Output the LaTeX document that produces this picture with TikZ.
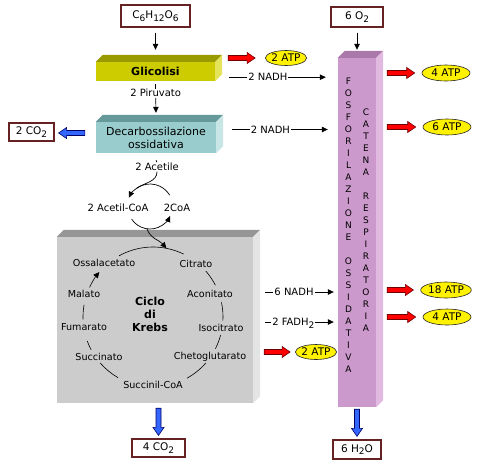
\documentclass[tikz,border=0pt]{standalone}
\usepackage{fontspec}
\setmainfont{DejaVu Sans}
\usetikzlibrary{arrows.meta,calc,shapes.geometric}

\definecolor{glyfront}{RGB}{204,204,0}
\definecolor{glytop}{RGB}{153,153,0}
\definecolor{glyside}{RGB}{228,228,90}
\definecolor{decfront}{RGB}{153,204,204}
\definecolor{dectop}{RGB}{102,153,153}
\definecolor{decside}{RGB}{200,230,230}
\definecolor{krfront}{RGB}{204,204,204}
\definecolor{krtop}{RGB}{150,150,150}
\definecolor{krside}{RGB}{228,228,228}
\definecolor{colfront}{RGB}{204,153,204}
\definecolor{coltop}{RGB}{170,120,170}
\definecolor{colside}{RGB}{225,185,225}
\definecolor{boxline}{RGB}{102,34,34}
\definecolor{atpred}{RGB}{255,0,0}
\definecolor{atpline}{RGB}{110,0,0}
\definecolor{co2blue}{RGB}{51,102,255}
\definecolor{co2line}{RGB}{0,0,102}

% low subscript
\newcommand\lowsub[1]{\raisebox{-2.5pt}{\fontsize{9}{10}\selectfont #1}}
% top and right face of a slab node
\newcommand\slabsides[3]{%
  \fill[#2] (#1.north west) -- ++(7,7) -- ($(#1.north east)+(7,7)$) -- (#1.north east) -- cycle;
  \fill[#3] (#1.north east) -- ++(7,7) -- ($(#1.south east)+(7,7)$) -- (#1.south east) -- cycle;
}
% fat outlined arrow: fill, outline, from, to
\newcommand\fatarrow[4]{%
  \path (#3) coordinate (fa-s) (#4) coordinate (fa-e);
  \filldraw[fill=#1, draw=#2, line width=.6pt, line join=miter]
    ($(fa-s)!2.5pt!90:(fa-e)$) -- ($(fa-e)!8pt!(fa-s)!2.5pt!-90:(fa-s)$)
    -- ($(fa-e)!8pt!(fa-s)!5.5pt!-90:(fa-s)$) -- (fa-e)
    -- ($(fa-e)!8pt!(fa-s)!5.5pt!90:(fa-s)$) -- ($(fa-e)!8pt!(fa-s)!2.5pt!90:(fa-s)$)
    -- ($(fa-s)!2.5pt!-90:(fa-e)$) -- cycle;
}

\begin{document}
\begin{tikzpicture}[x=1pt,y=1pt,
  lbl/.style={font=\fontsize{10}{12}\selectfont, inner sep=1pt, text height=7pt, text depth=0pt},
  kl/.style={font=\fontsize{9.6}{11}\selectfont, inner sep=1pt},
  molbox/.style={draw=boxline, line width=1.2pt, fill=white, inner sep=0pt, font=\fontsize{10.5}{12}\selectfont},
  slab/.style={inner sep=0pt, align=center},
  atp/.style={ellipse, draw=black!85, line width=.6pt, fill=yellow, inner sep=0pt, minimum height=16pt, font=\fontsize{10.5}{12}\selectfont},
  letter/.style={font=\fontsize{9}{10}\selectfont, inner sep=0pt, text height=6.5pt, text depth=0pt},
  arr/.style={-{Triangle[length=6pt,width=5.5pt]}, line width=.7pt}]
\useasboundingbox (0,0) rectangle (478,-464);

% inputs
\node[molbox, minimum width=69pt, minimum height=22pt] (gluc) at (155.5,-16) {C\lowsub{6}H\lowsub{12}O\lowsub{6}};
\node[molbox, minimum width=52pt, minimum height=20pt] (oxy) at (357,-17) {6 O\lowsub{2}};

% glicolisi, decarbossilazione
\node[slab, fill=glyfront, minimum width=119pt, minimum height=19pt, font=\bfseries\fontsize{11}{13}\selectfont] (gly) at (155.5,-71.5) {Glicolisi};
\slabsides{gly}{glytop}{glyside}
\node[slab, fill=decfront, minimum width=120pt, minimum height=31pt, font=\fontsize{11}{13}\selectfont] (dec) at (156,-137.5) {Decarbossilazione\\ossidativa};
\slabsides{dec}{dectop}{decside}
\draw[arr] ([yshift=-5pt]gluc.south) -- ([yshift=12pt]gly.north);
\draw[arr] ([yshift=-3pt]gly.south) -- ([yshift=9pt]dec.north) node[lbl, pos=.31, fill=white] {2 Piruvato};

% catena respiratoria
\node[slab, fill=colfront, minimum width=38pt, minimum height=349pt] (col) at (357,-232.5) {};
\slabsides{col}{coltop}{colside}
\draw[arr] ([yshift=-5pt]oxy.south) -- ([yshift=8pt]col.north);
\foreach \c [count=\i from 0] in {F,O,S,F,O,R,I,L,A,Z,I,O,N,E,,O,S,S,I,D,A,T,I,V,A}
  \node[letter] (fo\i) at (348.5,-81-12*\i) {\c};
\foreach \c [count=\i from 0] in {C,A,T,E,N,A,,R,E,S,P,I,R,A,T,O,R,I,A}
  \node[letter] (ca\i) at (366,-112-12*\i) {\c};

% ciclo di Krebs
\node[slab, fill=krfront, minimum width=196pt, minimum height=166pt] (krebs) at (155,-320) {};
\slabsides{krebs}{krtop}{krside}
\coordinate (kc) at (153,-317);
\node[kl] (ossal) at (104,-263) {Ossalacetato};
\node[kl] (citr) at (196,-264) {Citrato};
\node[kl] (malato) at (84,-294) {Malato};
\node[kl] (aconit) at (210,-294) {Aconitato};
\node[kl] (fumar) at (84,-327) {Fumarato};
\node[kl] (isocit) at (221,-328) {Isocitrato};
\node[kl] (succ) at (99,-357) {Succinato};
\node[kl] (cheto) at (210,-357) {Chetoglutarato};
\node[kl] (succoa) at (153,-385) {Succinil-CoA};
\node[font=\bfseries\fontsize{11}{13}\selectfont, align=center, inner sep=0pt] (ciclo) at (150,-314) {Ciclo\\di\\Krebs};
\foreach \a/\b in {119/64, 41/27, 12/-3, -15/-27, -41/-61, 221/240, 200/208, 182/170}
  \draw[line width=.6pt] ($(kc)+(\a:70)$) arc[start angle=\a, end angle=\b, radius=70];
\draw[arr, line width=.6pt] ($(kc)+(155:70)$) arc[start angle=155, end angle=140, radius=70];

% acetil-CoA
\node[lbl] (acet) at (157,-167) {2 Acetile};
\node[lbl] (acoa) at (118,-208) {2 Acetil-CoA};
\node[lbl] (coa) at (177,-208) {2CoA};
\coordinate (cyc) at (150,-207);
\draw[line width=.7pt] ([yshift=-7pt]dec.south) -- (acet.north);
\draw[arr] ($(cyc)+(31:23)$) arc[start angle=31, end angle=156, radius=23];
\draw[arr] ($(cyc)+(213:22)$) arc[start angle=213, end angle=336, radius=22];
\draw[line width=.7pt] (acet.south) to[out=-90, in=35] ($(cyc)+(125:23)$);
\draw[arr] ($(cyc)+(262:22)$) to[out=-70, in=130] ($(kc)+(79:70)$);

% ATP
\node[atp, minimum width=38pt, minimum height=15pt] (atpG) at (286,-58) {2 ATP};
\node[atp, minimum width=48pt] (atpB) at (446,-73) {4 ATP};
\node[atp, minimum width=48pt] (atpC) at (447,-127) {6 ATP};
\node[atp, minimum width=49pt] (atpD) at (446,-290) {18 ATP};
\node[atp, minimum width=48pt] (atpE) at (447,-317) {4 ATP};
\node[atp, minimum width=38pt, minimum height=15pt] (atpK) at (316,-352) {2 ATP};
\fatarrow{atpred}{atpline}{$(gly.east |- atpG.west)+(13,0)$}{$(atpG.west)+(-10,0)$}
\foreach \t in {atpB,atpC,atpD,atpE}
  {\fatarrow{atpred}{atpline}{$(col.east |- \t.west)+(11,0)$}{$(\t.west)+(-7,0)$}}
\fatarrow{atpred}{atpline}{$(krebs.east |- atpK.west)+(11,0)$}{$(atpK.west)+(-5,0)$}

% NADH, FADH2
\draw[arr] ($(gly.south east)+(14,4)$) coordinate (nA) -- ($(col.west |- nA)+(-12,0)$) node[lbl, pos=.4, fill=white] {2 NADH};
\draw[arr] ($(dec.east)+(16,8)$) coordinate (nB) -- ($(col.west |- nB)+(-10,0)$) node[lbl, pos=.4, fill=white] {2 NADH};
\coordinate (n6) at ($(krebs.east |- atpD.west)+(12,-2)$);
\draw[arr] (n6) -- ($(col.west |- n6)+(-4,0)$) node[lbl, pos=.42, fill=white] {6 NADH};
\coordinate (f2) at ($(krebs.east |- atpE.west)+(12,-5)$);
\draw[arr] (f2) -- ($(col.west |- f2)+(-4,0)$) node[lbl, pos=.41, fill=white] {2 FADH\lowsub{2}};

% outputs
\node[molbox, minimum width=45pt, minimum height=18pt] (co2a) at (31.5,-132) {2 CO\lowsub{2}};
\node[molbox, minimum width=53pt, minimum height=18pt] (co2b) at (158.5,-448) {4 CO\lowsub{2}};
\node[molbox, minimum width=48pt, minimum height=19pt] (water) at (357,-449.5) {6 H\lowsub{2}O};
\fatarrow{co2blue}{co2line}{$(dec.west |- co2a.east)+(-11,-1)$}{$(co2a.east)+(4,-1)$}
\fatarrow{co2blue}{co2line}{$(co2b.north |- krebs.south)+(0,-5)$}{$(co2b.north)+(0,3)$}
\fatarrow{co2blue}{co2line}{$(col.south)+(0,-2)$}{$(water.north)+(0,3)$}
\end{tikzpicture}
\end{document}
